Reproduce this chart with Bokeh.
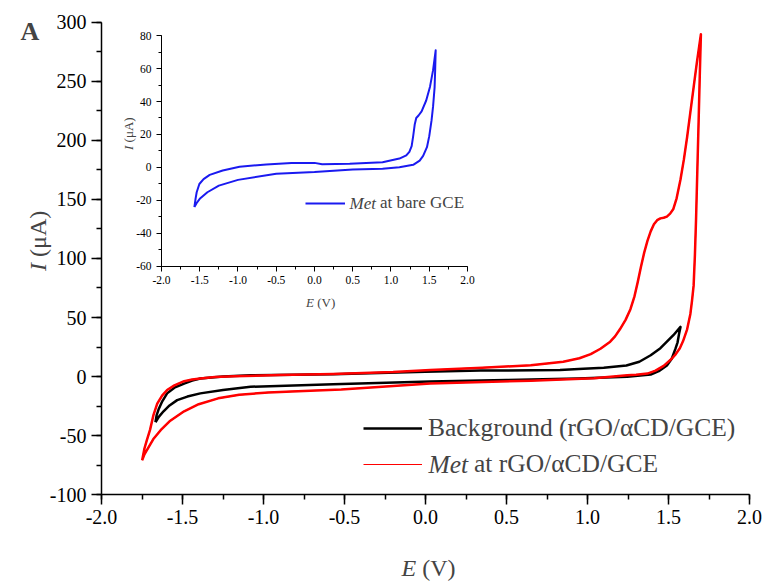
import math
from bokeh.plotting import figure
from bokeh.models import (Label, Legend, LegendItem, SingleIntervalTicker,
                          NumeralTickFormatter, ColumnDataSource, Range1d)
from bokeh.layouts import column
from bokeh.embed import file_html
from bokeh.resources import INLINE

# ---------------- data ----------------
# Met at rGO/aCD/GCE (red): forward (anodic) sweep, then reverse sweep
red_fwd_E = [-1.749, -1.735, -1.72, -1.70, -1.68, -1.656, -1.625, -1.595, -1.55, -1.49, -1.44,
             -1.39, -1.3, -1.18, -0.9, -0.57, -0.2, 0.03, 0.35, 0.65, 0.85, 0.95, 1.02, 1.08,
             1.14, 1.17, 1.2, 1.235, 1.265, 1.29, 1.31, 1.33, 1.35, 1.37, 1.39, 1.41, 1.43,
             1.45, 1.47, 1.49, 1.51, 1.53, 1.55, 1.574, 1.595, 1.615, 1.635, 1.655, 1.675, 1.70]
red_fwd_I = [-71, -61, -54, -45, -33, -23, -16, -11.5, -7.5, -4, -2.5,
             -1.7, -0.5, 0.3, 1.2, 2.2, 3.8, 5.5, 7.5, 9.5, 12.5, 15.5, 19, 23.5,
             29.5, 34, 40, 48, 57, 68, 80, 93, 105, 115, 123, 129, 132.5,
             134, 134.5, 135.5, 138, 142, 151, 167, 184, 203, 224, 245, 266, 290]
red_rev_E = [1.70, 1.693, 1.686, 1.678, 1.67, 1.663, 1.655, 1.645, 1.635, 1.615, 1.59, 1.57,
             1.545, 1.52, 1.47, 1.42, 1.37, 1.3, 1.245, 1.04, 0.65, 0.03, -0.52, -0.75,
             -0.97, -1.15, -1.28, -1.4, -1.49, -1.58, -1.635, -1.68, -1.718, -1.735, -1.749]
red_rev_I = [290, 255, 217, 175, 133, 103, 77, 64, 53, 40, 30, 24,
             19, 15, 9, 5, 2.5, 1.5, 1, -1.5, -3.5, -5.9, -11, -12.2,
             -13.5, -15.5, -18.5, -23.5, -29.5, -38, -45.5, -53, -62, -66, -71]

# Background (rGO/aCD/GCE) (black)
blk_fwd_E = [-1.667, -1.66, -1.648, -1.625, -1.595, -1.55, -1.49, -1.44, -1.39, -1.25, -1.08,
             -0.57, 0.0, 0.34, 0.83, 0.975, 1.1, 1.24, 1.32, 1.39, 1.45, 1.49, 1.53, 1.574]
blk_fwd_I = [-38.8, -33, -28, -21, -14.3, -9.5, -6, -3.5, -1.7, 0, 1.1,
             1.9, 4, 5, 5.5, 6.5, 7.5, 9.3, 12.5, 18, 24, 29.5, 35, 42]
blk_rev_E = [1.574, 1.565, 1.556, 1.543, 1.52, 1.49, 1.44, 1.39, 1.245, 0.94, 0.5, 0.03,
             -0.57, -1.08, -1.25, -1.39, -1.47, -1.533, -1.58, -1.617, -1.645, -1.667]
blk_rev_I = [42, 36, 29, 23.6, 15, 9.3, 4.5, 1.7, -0.3, -1.7, -3, -4.3,
             -6.5, -8.7, -11.5, -14.3, -17, -20, -24.5, -29.5, -34, -38.8]

# Inset: Met at bare GCE (blue)
blu_fwd_E = [-1.57, -1.555, -1.54, -1.505, -1.45, -1.37, -1.2, -0.98, -0.63, -0.3, 0.0, 0.1,
             0.46, 0.89, 1.11, 1.2, 1.24, 1.27, 1.29, 1.31, 1.33, 1.36, 1.40, 1.46, 1.51,
             1.55, 1.584]
blu_fwd_I = [-24, -19, -15, -10, -7, -4.5, -1.8, 0.5, 1.8, 2.8, 2.8, 2,
             2.2, 3.2, 5.4, 7.3, 9.5, 13, 19, 26, 30, 31.5, 34, 40.6, 49,
             59, 71]
blu_rev_E = [1.584, 1.578, 1.57, 1.55, 1.53, 1.5, 1.47, 1.42, 1.375, 1.29, 1.11, 0.89,
             0.5, 0.0, -0.5, -1.0, -1.25, -1.4, -1.5, -1.54, -1.57]
blu_rev_I = [71, 60, 48.6, 37, 28.5, 19, 12.3, 7, 4.2, 1.6, 0.2, -0.8,
             -1.2, -2.8, -3.8, -7.5, -11, -15, -19, -21.5, -24]

axis_x_main = (-2.0, 2.0)
axis_y_main = (-100, 300)
axis_x_inset = (-2.0, 2.0)
axis_y_inset = (-60, 80)

label_bg = "Background (rGO/\u03b1CD/GCE)"
label_met_main = "at rGO/\u03b1CD/GCE"
label_met_inset = "at bare GCE"

SERIF = "Liberation Serif"
RED = "#ff0000"
BLUE = "#1a1af0"


def style_axes(p, xb, yb, xint, yint, tick_size, major_out, minor_out, lw):
    p.xaxis.ticker = SingleIntervalTicker(interval=xint, num_minor_ticks=2)
    p.yaxis.ticker = SingleIntervalTicker(interval=yint, num_minor_ticks=2)
    p.xaxis.formatter = NumeralTickFormatter(format="0.0")
    p.yaxis.formatter = NumeralTickFormatter(format="0")
    p.xaxis.bounds = xb
    p.yaxis.bounds = yb
    p.xaxis.fixed_location = yb[0]
    p.yaxis.fixed_location = xb[0]
    for ax in (p.xaxis, p.yaxis):
        ax.axis_line_color = "black"
        ax.axis_line_width = lw
        ax.major_tick_line_color = "black"
        ax.minor_tick_line_color = "black"
        ax.major_tick_line_width = lw
        ax.minor_tick_line_width = lw
        ax.major_tick_in = 0
        ax.major_tick_out = major_out
        ax.minor_tick_in = 0
        ax.minor_tick_out = minor_out
        ax.major_label_text_font = SERIF
        ax.major_label_text_font_size = tick_size
        ax.major_label_text_color = "black"
    p.xgrid.visible = False
    p.ygrid.visible = False
    p.outline_line_color = None


# ---------------- main figure (frame = whole canvas; axes fixed inside) ----------------
p = figure(width=766, height=583,
           x_range=Range1d(-2.6235, 2.1049), y_range=Range1d(-175.42, 318.64),
           output_backend="svg", toolbar_location=None,
           min_border_left=0, min_border_right=0, min_border_top=0, min_border_bottom=0)
style_axes(p, axis_x_main, axis_y_main, 0.5, 50, "20px", 10, 5, 1.5)

src_blk = ColumnDataSource(dict(E=blk_fwd_E + blk_rev_E[1:], I=blk_fwd_I + blk_rev_I[1:]))
src_red = ColumnDataSource(dict(E=red_fwd_E + red_rev_E[1:], I=red_fwd_I + red_rev_I[1:]))

r_red_thin = p.line("E", "I", source=src_red, line_color=RED, line_width=1.2)
r_blk = p.line("E", "I", source=src_blk, line_color="black", line_width=2.5, line_join="round")
r_red = p.line("E", "I", source=src_red, line_color=RED, line_width=2.5, line_join="round")

leg_common = dict(padding=0, margin=0, spacing=0, glyph_width=59, glyph_height=36,
                  label_height=36, label_text_font=SERIF, label_text_font_size="25.5px",
                  border_line_color=None, background_fill_alpha=0)
p.add_layout(Legend(items=[LegendItem(label=label_bg, renderers=[r_blk])],
                    location=(363, 137), label_standoff=6, **leg_common))
p.add_layout(Legend(items=[LegendItem(label=label_met_main, renderers=[r_red_thin])],
                    location=(363, 101), label_standoff=52, **leg_common))
p.add_layout(Label(x=0.0185, y=-74.6, text="Met", text_font=SERIF, text_font_size="25.5px",
                   text_font_style="italic", text_align="left", text_baseline="middle"))

p.add_layout(Label(x=-2.5, y=305, text="A", text_font=SERIF, text_font_size="26px",
                   text_font_style="bold", text_align="left", text_baseline="top"))
# y title: italic I + (μA)
p.add_layout(Label(x=-2.389, y=89.4, text="I", text_font=SERIF, text_font_size="24px",
                   text_font_style="italic", angle=math.pi / 2,
                   text_align="left", text_baseline="middle"))
p.add_layout(Label(x=-2.389, y=101.3, text="(\u03bcA)", text_font=SERIF, text_font_size="24px",
                   angle=math.pi / 2, text_align="left", text_baseline="middle"))
# x title: italic E + (V)
p.add_layout(Label(x=-0.148, y=-161.9, text="E", text_font=SERIF, text_font_size="24px",
                   text_font_style="italic", text_align="left", text_baseline="middle"))
p.add_layout(Label(x=-0.02, y=-161.9, text="(V)", text_font=SERIF, text_font_size="24px",
                   text_align="left", text_baseline="middle"))

# ---------------- inset figure ----------------
inset = figure(width=370, height=293,
               x_range=Range1d(-2.732, 2.1046), y_range=Range1d(-89.7, 87.88),
               output_backend="svg", toolbar_location=None,
               min_border_left=0, min_border_right=0, min_border_top=0, min_border_bottom=0,
               margin=(-561, 0, 0, 105))
inset.background_fill_color = None
inset.border_fill_color = None
style_axes(inset, axis_x_inset, axis_y_inset, 0.5, 20, "11.5px", 5, 3, 1)

src_blu = ColumnDataSource(dict(E=blu_fwd_E + blu_rev_E[1:], I=blu_fwd_I + blu_rev_I[1:]))
r_blu = inset.line("E", "I", source=src_blu, line_color=BLUE, line_width=2, line_join="round")
inset.add_layout(Legend(items=[LegendItem(label=label_met_inset, renderers=[r_blu])],
                        location=(200, 102), padding=0, margin=0, spacing=0,
                        glyph_width=40, glyph_height=20, label_height=20, label_standoff=35,
                        label_text_font=SERIF, label_text_font_size="17px",
                        border_line_color=None, background_fill_alpha=0))
inset.add_layout(Label(x=0.4575, y=-21.8, text="Met", text_font=SERIF, text_font_size="17px",
                       text_font_style="italic", text_align="left", text_baseline="middle"))
inset.add_layout(Label(x=-2.431, y=10.6, text="I", text_font=SERIF, text_font_size="13px",
                       text_font_style="italic", angle=math.pi / 2,
                       text_align="left", text_baseline="middle"))
inset.add_layout(Label(x=-2.431, y=15.2, text="(\u03bcA)", text_font=SERIF, text_font_size="13px",
                       angle=math.pi / 2, text_align="left", text_baseline="middle"))
inset.add_layout(Label(x=-0.111, y=-81.8, text="E", text_font=SERIF, text_font_size="13px",
                       text_font_style="italic", text_align="left", text_baseline="middle"))
inset.add_layout(Label(x=0.036, y=-81.8, text="(V)", text_font=SERIF, text_font_size="13px",
                       text_align="left", text_baseline="middle"))

layout = column(p, inset, spacing=0)
open("out.html", "w").write(file_html(layout, INLINE))
